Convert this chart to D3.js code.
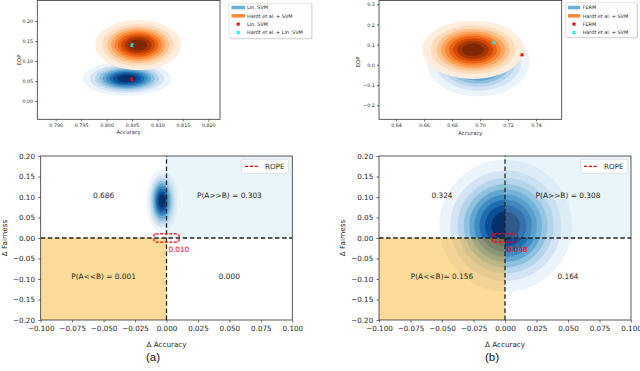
<!DOCTYPE html>
<html><head><meta charset="utf-8">
<script src="https://cdn.jsdelivr.net/npm/d3@7"></script>
<style>body{margin:0;background:#fff}svg{display:block}text{font-family:"DejaVu Sans",sans-serif;fill:#262626}</style>
</head><body>
<svg id="c" width="640" height="371"></svg>
<script>
// ---------- data ----------
const tlTicksX = [0.790, 0.795, 0.800, 0.805, 0.810, 0.815, 0.820];
const tlTicksY = [0.00, 0.05, 0.10, 0.15, 0.20];
const trTicksX = [0.64, 0.66, 0.68, 0.70, 0.72, 0.74];
const trTicksY = [-0.2, -0.1, 0.0, 0.1, 0.2, 0.3];
const botTicksX = [-0.100, -0.075, -0.050, -0.025, 0.000, 0.025, 0.050, 0.075, 0.100];
const botTicksY = [-0.20, -0.15, -0.10, -0.05, 0.00, 0.05, 0.10, 0.15, 0.20];

const legendA = ["Lin. SVM", "Hardt et al. + SVM", "Lin. SVM", "Hardt et al. + Lin. SVM"];
const legendB = ["FERM", "Hardt et al. + SVM", "FERM", "Hardt et al. + SVM"];

// density summaries: centre and spread (accuracy, EOP)
const kdeA_base = { cx: 0.8040, cy: 0.056, sx: 0.00404, sy: 0.0198 };
const kdeA_post = { cx: 0.8062, cy: 0.140, sx: 0.00394, sy: 0.0291 };
const kdeB_base = { cx: 0.6987, cy: 0.015, sx: 0.01714, sy: 0.0795 };
const kdeB_post = { cx: 0.6950, cy: 0.075, sx: 0.01686, sy: 0.0672 };
// points: [accuracy, EOP]
const pointsA = [[0.805, 0.055], [0.805, 0.140]];
const pointsB = [[0.730, 0.050], [0.710, 0.110]];

// difference densities (Δ accuracy, Δ fairness)
const kdeDiffA = { cx: -0.0035, cy: 0.090, sx: 0.00568, sy: 0.036 };
const kdeDiffB = { cx: 0.0005, cy: 0.030, sx: 0.0245, sy: 0.075 };
const quadA = ["0.686", "P(A>>B) = 0.303", "P(A<<B) = 0.001", "0.000"];
const quadB = ["0.324", "P(A>>B) = 0.308", "P(A<<B)= 0.156", "0.164"];
const ropeA = "0.010";
const ropeB = "0.048";
const ropeHalf = 0.01;

// ---------- drawing ----------
const svg = d3.select("#c");
const minus = s => s.replace(/-/g, "\u2212");
let clipN = 0;

function axesFrame(x, y) {
  const [l, r] = x.range(), [b, t] = y.range();
  return { l, r, b, t };
}

function drawKde(g, x, y, p, interp) {
  const n = 200, m = 200;
  const [x0, x1] = x.domain(), [y0, y1] = y.domain();
  const vals = new Float64Array(n * m);
  for (let j = 0; j < m; j++) for (let i = 0; i < n; i++) {
    const xv = x0 + (i + 0.5) / n * (x1 - x0), yv = y0 + (j + 0.5) / m * (y1 - y0);
    vals[j * n + i] = Math.exp(-0.5 * (((xv - p.cx) / p.sx) ** 2 + ((yv - p.cy) / p.sy) ** 2));
  }
  const thr = d3.range(1, 10).map(k => k / 10);
  const cs = d3.contours().size([n, m]).thresholds(thr)(vals);
  const tr = d3.geoTransform({ point(px, py) { this.stream.point(x(x0 + px / n * (x1 - x0)), y(y0 + py / m * (y1 - y0))); } });
  const path = d3.geoPath(tr);
  g.append("g").selectAll("path").data(cs).join("path")
    .attr("d", path).attr("fill", (d, i) => interp(0.06 + 0.94 * i / 8));
}

function makePanel(x, y, xt, yt, xf, yf, fs, tickLen) {
  const f = axesFrame(x, y);
  const id = "clip" + (clipN++);
  svg.append("clipPath").attr("id", id).append("rect")
    .attr("x", f.l).attr("y", f.t).attr("width", f.r - f.l).attr("height", f.b - f.t);
  const g = svg.append("g");
  const plot = g.append("g").attr("clip-path", `url(#${id})`);
  const over = g.append("g");
  const axX = d3.axisBottom(x).tickValues(xt).tickFormat(d => minus(d3.format(xf)(d))).tickSize(tickLen).tickPadding(fs * 0.45);
  const axY = d3.axisLeft(y).tickValues(yt).tickFormat(d => minus(d3.format(yf)(d))).tickSize(tickLen).tickPadding(fs * 0.45);
  const gx = over.append("g").attr("transform", `translate(0,${f.b})`).call(axX);
  const gy = over.append("g").attr("transform", `translate(${f.l},0)`).call(axY);
  [gx, gy].forEach(a => {
    a.select(".domain").remove();
    a.selectAll("line").attr("stroke", "#333").attr("stroke-width", 0.7);
    a.selectAll("text").attr("font-size", fs).attr("fill", "#262626").style("font-family", "DejaVu Sans");
  });
  over.append("rect").attr("x", f.l).attr("y", f.t).attr("width", f.r - f.l).attr("height", f.b - f.t)
    .attr("fill", "none").attr("stroke", "#333").attr("stroke-width", 0.8);
  return { plot, over, f };
}

function xMarker(g, cx, cy, color) {
  g.append("path").attr("d", `M${cx - 1.4},${cy - 1.4}L${cx + 1.4},${cy + 1.4}M${cx - 1.4},${cy + 1.4}L${cx + 1.4},${cy - 1.4}`)
    .attr("stroke", color).attr("stroke-width", 1.4).attr("fill", "none");
}

function topLegend(box, labels, patchX0, patchX1, textX) {
  const [bx0, by0, bx1, by1] = box;
  svg.append("rect").attr("x", bx0 + 1).attr("y", by0 + 1).attr("width", bx1 - bx0).attr("height", by1 - by0)
    .attr("rx", 1.5).attr("fill", "#bbb").attr("opacity", 0.6);
  svg.append("rect").attr("x", bx0).attr("y", by0).attr("width", bx1 - bx0).attr("height", by1 - by0)
    .attr("rx", 1.5).attr("fill", "#fff").attr("stroke", "#d0d0d0").attr("stroke-width", 0.6);
  const rows = [7.5, 15.8, 24.2, 32.6];
  const colors = ["#6baed6", "#fd8d3c"];
  labels.forEach((t, i) => {
    const yy = rows[i];
    if (i < 2) {
      svg.append("rect").attr("x", patchX0).attr("y", yy - 1.8).attr("width", patchX1 - patchX0).attr("height", 3.6).attr("fill", colors[i]);
    } else {
      xMarker(svg, (patchX0 + patchX1) / 2, yy, i === 2 ? "red" : "cyan");
    }
    svg.append("text").attr("x", textX).attr("y", yy).attr("dy", "0.35em").attr("font-size", 4.9).text(t);
  });
}

// ---- top-left ----
{
  const x = d3.scaleLinear().domain([0.78638, 0.8223]).range([37.3, 220]);
  const y = d3.scaleLinear().domain([-0.04575, 0.2513]).range([119.3, 0.5]);
  const p = makePanel(x, y, tlTicksX, tlTicksY, ".3f", ".2f", 4.8, 2);
  drawKde(p.plot, x, y, kdeA_base, d3.interpolateBlues);
  drawKde(p.plot, x, y, kdeA_post, d3.interpolateOranges);
  xMarker(p.plot, x(pointsA[0][0]), y(pointsA[0][1]), "red");
  xMarker(p.plot, x(pointsA[1][0]), y(pointsA[1][1]), "cyan");
  svg.append("text").attr("x", (37.3 + 220) / 2).attr("y", 133.5).attr("text-anchor", "middle").attr("font-size", 5.3).text("Accuracy");
  svg.append("text").attr("transform", "translate(20.5,60) rotate(-90)").attr("text-anchor", "middle").attr("font-size", 5.3).text("EOP");
  topLegend([229, 3.3, 311.5, 38.3], legendA, 231.5, 245, 247);
}
// ---- top-right ----
{
  const x = d3.scaleLinear().domain([0.62786, 0.75836]).range([379, 561.7]);
  const y = d3.scaleLinear().domain([-0.2693, 0.3188]).range([119.3, 0.5]);
  const p = makePanel(x, y, trTicksX, trTicksY, ".2f", ".1f", 4.8, 2);
  drawKde(p.plot, x, y, kdeB_base, d3.interpolateBlues);
  drawKde(p.plot, x, y, kdeB_post, d3.interpolateOranges);
  xMarker(p.plot, x(pointsB[0][0]), y(pointsB[0][1]), "red");
  xMarker(p.plot, x(pointsB[1][0]), y(pointsB[1][1]), "cyan");
  svg.append("text").attr("x", (379 + 561.7) / 2).attr("y", 134.5).attr("text-anchor", "middle").attr("font-size", 5.3).text("Accuracy");
  svg.append("text").attr("transform", "translate(359.5,62) rotate(-90)").attr("text-anchor", "middle").attr("font-size", 5.3).text("EOP");
  topLegend([565.7, 2.7, 637, 37.3], legendB, 568, 580, 582.7);
}

// ---- bottom panels ----
function bottom(xr, kde, quad, ropeText, yLabelX, legendX0, capX, cap) {
  const x = d3.scaleLinear().domain([-0.1, 0.1]).range(xr);
  const y = d3.scaleLinear().domain([-0.2, 0.2]).range([320, 156]);
  const p = makePanel(x, y, botTicksX, botTicksY, ".3f", ".2f", 7.2, 2.5);
  drawKde(p.plot, x, y, kde, d3.interpolateBlues);
  // quadrant shading
  p.plot.append("rect").attr("x", x(0)).attr("y", y(0.2)).attr("width", x(0.1) - x(0)).attr("height", y(0) - y(0.2))
    .attr("fill", "#add8e6").attr("opacity", 0.25);
  p.plot.append("rect").attr("x", x(-0.1)).attr("y", y(0)).attr("width", x(0) - x(-0.1)).attr("height", y(-0.2) - y(0))
    .attr("fill", "#ffa500").attr("opacity", 0.4);
  // dashed axes
  p.plot.append("line").attr("x1", x(0)).attr("x2", x(0)).attr("y1", y(-0.2)).attr("y2", y(0.2))
    .attr("stroke", "#222").attr("stroke-width", 1.3).attr("stroke-dasharray", "4.5,2.6");
  p.plot.append("line").attr("x1", x(-0.1)).attr("x2", x(0.1)).attr("y1", y(0)).attr("y2", y(0))
    .attr("stroke", "#222").attr("stroke-width", 1.3).attr("stroke-dasharray", "4.5,2.6");
  // ROPE
  p.plot.append("rect").attr("x", x(-ropeHalf)).attr("y", y(ropeHalf)).attr("width", x(ropeHalf) - x(-ropeHalf))
    .attr("height", y(-ropeHalf) - y(ropeHalf)).attr("rx", 1.5)
    .attr("fill", "none").attr("stroke", "red").attr("stroke-width", 1.2).attr("stroke-dasharray", "3,1.6");
  p.over.append("text").attr("x", x(0.0015)).attr("y", y(-0.0275)).attr("dy", "0.35em").attr("font-size", 7.3)
    .style("fill", "red").text(ropeText);
  const pos = [[-0.05, 0.105], [0.05, 0.105], [-0.05, -0.094], [0.05, -0.094]];
  quad.forEach((t, i) => {
    p.over.append("text").attr("x", x(pos[i][0])).attr("y", y(pos[i][1])).attr("dy", "0.35em")
      .attr("text-anchor", "middle").attr("font-size", 7.4).text(t);
  });
  // legend
  const lg = p.over.append("g");
  lg.append("rect").attr("x", legendX0).attr("y", 159.3).attr("width", 46.6).attr("height", 14).attr("rx", 1.5)
    .attr("fill", "#fff").attr("stroke", "#d0d0d0").attr("stroke-width", 0.6);
  lg.append("line").attr("x1", legendX0 + 3.3).attr("x2", legendX0 + 17.6).attr("y1", 166.4).attr("y2", 166.4)
    .attr("stroke", "red").attr("stroke-width", 1.3).attr("stroke-dasharray", "3.2,1.6");
  lg.append("text").attr("x", legendX0 + 23.3).attr("y", 166.4).attr("dy", "0.35em").attr("font-size", 7.2).text("ROPE");
  // labels
  svg.append("text").attr("x", (xr[0] + xr[1]) / 2).attr("y", 344).attr("dy", "0.35em").attr("text-anchor", "middle")
    .attr("font-size", 7.2).text("\u0394 Accuracy");
  svg.append("text").attr("transform", `translate(${yLabelX},238) rotate(-90)`).attr("dy", "0.35em").attr("text-anchor", "middle")
    .attr("font-size", 7.2).text("\u0394 Fairness");
  svg.append("text").attr("x", capX).attr("y", 357).attr("dy", "0.35em").attr("text-anchor", "middle")
    .attr("font-size", 11.5).style("font-family", "Liberation Sans, Arial, sans-serif").style("fill", "#111").text(cap);
}
bottom([40.7, 292.3], kdeDiffA, quadA, ropeA, 4.5, 241.7, 153, "(a)");
bottom([379, 631], kdeDiffB, quadB, ropeB, 342.5, 580.7, 492, "(b)");
</script>
</body></html>
